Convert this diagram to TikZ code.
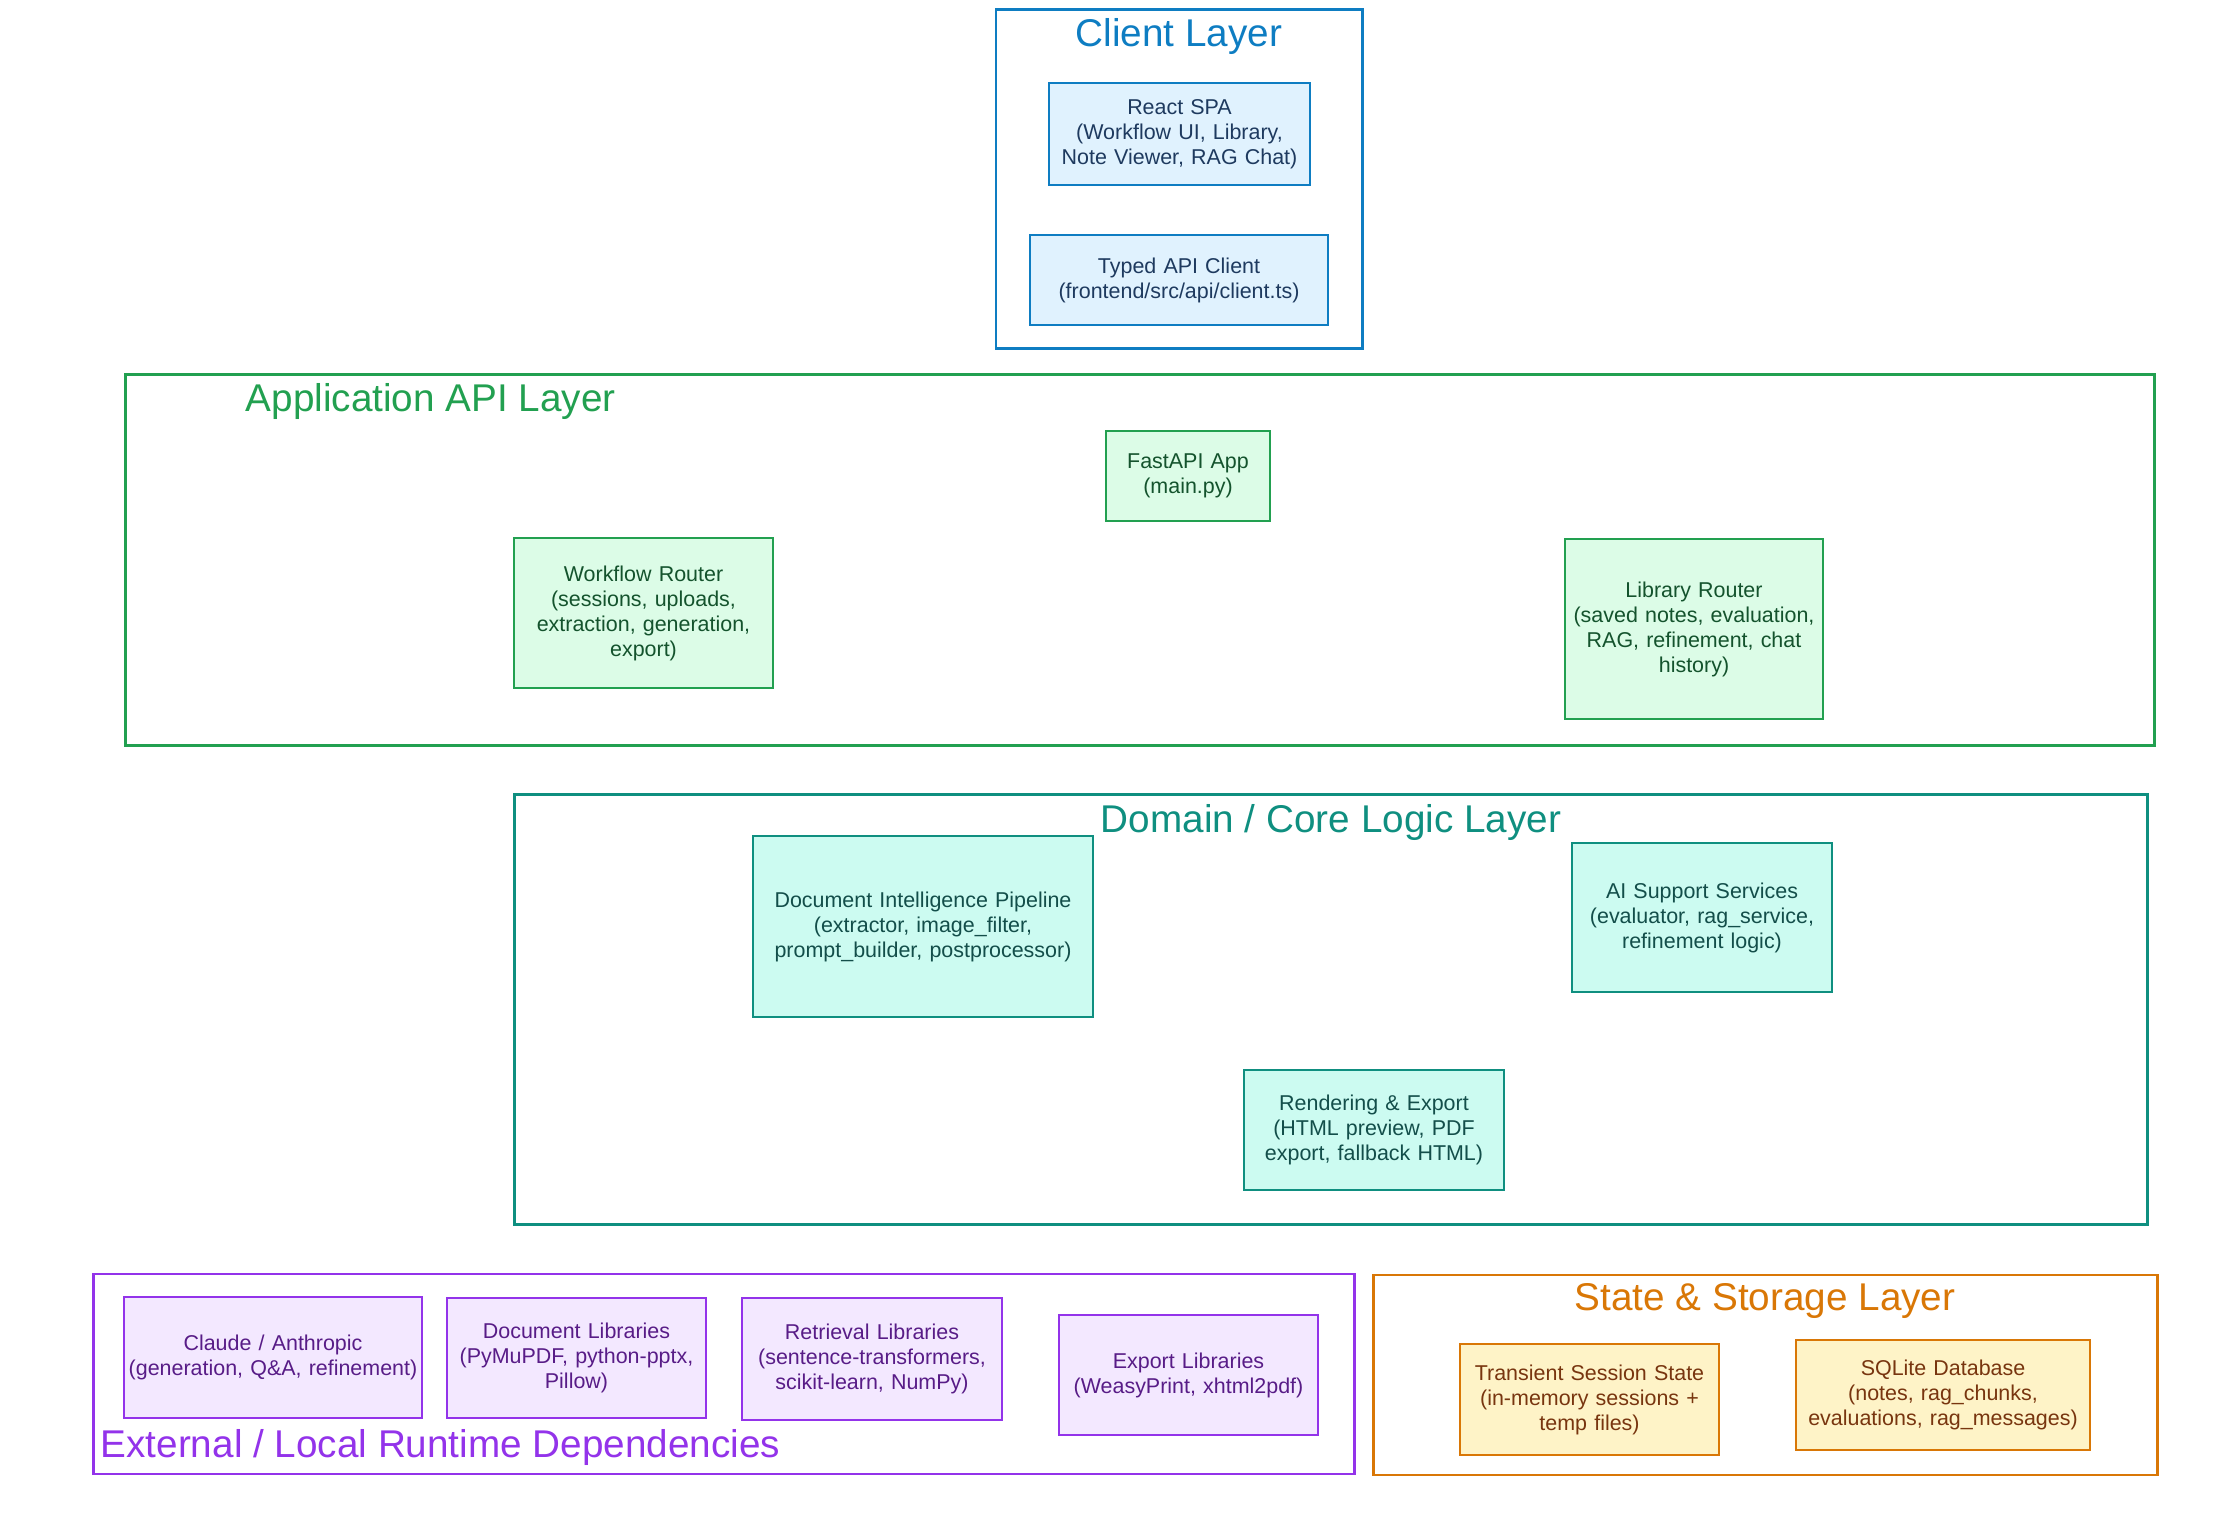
\documentclass[tikz,border=0pt]{standalone}
\usepackage{fontspec}
\setmainfont{Liberation Sans}
\usepackage{tikz}
\usetikzlibrary{positioning}
\definecolor{clientblue}{RGB}{14,125,194}
\definecolor{clientfill}{RGB}{224,242,254}
\definecolor{clienttext}{RGB}{30,58,95}
\definecolor{apigreen}{RGB}{34,160,80}
\definecolor{apifill}{RGB}{220,252,231}
\definecolor{apitext}{RGB}{20,83,45}
\definecolor{coreteal}{RGB}{15,143,128}
\definecolor{corefill}{RGB}{204,251,241}
\definecolor{coretext}{RGB}{19,78,74}
\definecolor{extpurple}{RGB}{147,51,234}
\definecolor{extfill}{RGB}{243,232,255}
\definecolor{exttext}{RGB}{88,28,135}
\definecolor{storeorange}{RGB}{217,119,6}
\definecolor{storefill}{RGB}{254,243,199}
\definecolor{storetext}{RGB}{120,53,15}
\newcommand{\noeudfont}{\fontsize{6.1}{7.1}\selectfont}
\newcommand{\titrefont}{\fontsize{11}{12}\selectfont}
\tikzset{
  boite/.style={rectangle, align=center, font=\noeudfont, inner sep=0pt,
    line width=0.6pt, text width=#1},
  boite/.default=2.6cm,
  clientbox/.style={boite=#1, draw=clientblue, fill=clientfill, text=clienttext},
  apibox/.style={boite=#1, draw=apigreen, fill=apifill, text=apitext},
  corebox/.style={boite=#1, draw=coreteal, fill=corefill, text=coretext},
  extbox/.style={boite=#1, draw=extpurple, fill=extfill, text=exttext},
  storebox/.style={boite=#1, draw=storeorange, fill=storefill, text=storetext},
  couche/.style={rectangle, draw=#1, line width=0.8pt, inner sep=0pt},
  titre/.style={font=\titrefont, text=#1, inner sep=0pt},
}

\begin{document}
\begin{tikzpicture}[x=0.01cm, y=-0.01cm]
  \useasboundingbox (0,0) rectangle (2237,1524);
  % layers
  \node[couche=clientblue, minimum width=3.66cm, minimum height=3.38cm] (client) at (1179,179) {};
  \node[couche=apigreen, minimum width=20.28cm, minimum height=3.70cm] (api) at (1140,560) {};
  \node[couche=coreteal, minimum width=16.32cm, minimum height=4.29cm] (core) at (1331,1009.5) {};
  \node[couche=extpurple, minimum width=12.60cm, minimum height=2.00cm] (ext) at (724,1374) {};
  \node[couche=storeorange, minimum width=7.83cm, minimum height=2.00cm] (store) at (1765.5,1375) {};
  \node[titre=clientblue] (clienttitle) at (1179,36) {Client Layer};
  \node[titre=apigreen, anchor=west] (apititle) at (245,401) {Application API Layer};
  \node[titre=coreteal] (coretitle) at (1331,822) {Domain / Core Logic Layer};
  \node[titre=extpurple, anchor=west] (exttitle) at (100,1447) {External / Local Runtime Dependencies};
  \node[titre=storeorange] (storetitle) at (1765,1301) {State \& Storage Layer};
  % client
  \node[clientbox=2.61cm, minimum height=1.02cm] (spa) at (1179.5,134) {React SPA\\(Workflow UI, Library,\\Note Viewer, RAG Chat)};
  \node[clientbox=2.98cm, minimum height=0.90cm] (apiclient) at (1179,280) {Typed API Client\\(frontend/src/api/client.ts)};
  % api
  \node[apibox=1.64cm, minimum height=0.90cm] (fastapi) at (1188,476) {FastAPI App\\(main.py)};
  \node[apibox=2.59cm, minimum height=1.50cm] (wfrouter) at (643.5,613) {Workflow Router\\(sessions, uploads,\\extraction, generation,\\export)};
  \node[apibox=2.58cm, minimum height=1.80cm] (librouter) at (1694,629) {Library Router\\(saved notes, evaluation,\\RAG, refinement, chat\\history)};
  % core
  \node[corebox=3.40cm, minimum height=1.81cm] (pipeline) at (923,926.5) {Document Intelligence Pipeline\\(extractor, image\_filter,\\prompt\_builder, postprocessor)};
  \node[corebox=2.60cm, minimum height=1.49cm] (aisupport) at (1702,917.5) {AI Support Services\\(evaluator, rag\_service,\\refinement logic)};
  \node[corebox=2.60cm, minimum height=1.20cm] (render) at (1374,1130) {Rendering \& Export\\(HTML preview, PDF\\export, fallback HTML)};
  % external
  \node[extbox=2.98cm, minimum height=1.21cm] (claude) at (273,1357.5) {Claude / Anthropic\\(generation, Q\&A, refinement)};
  \node[extbox=2.59cm, minimum height=1.20cm] (doclibs) at (576.5,1358) {Document Libraries\\(PyMuPDF, python-pptx,\\Pillow)};
  \node[extbox=2.60cm, minimum height=1.22cm] (retlibs) at (872,1359) {Retrieval Libraries\\(sentence-transformers,\\scikit-learn, NumPy)};
  \node[extbox=2.59cm, minimum height=1.20cm] (explibs) at (1188.5,1375) {Export Libraries\\(WeasyPrint, xhtml2pdf)};
  % state
  \node[storebox=2.59cm, minimum height=1.11cm] (session) at (1589.5,1399.5) {Transient Session State\\(in-memory sessions +\\temp files)};
  \node[storebox=2.94cm, minimum height=1.10cm] (sqlite) at (1943,1395) {SQLite Database\\(notes, rag\_chunks,\\evaluations, rag\_messages)};
\end{tikzpicture}
\end{document}
